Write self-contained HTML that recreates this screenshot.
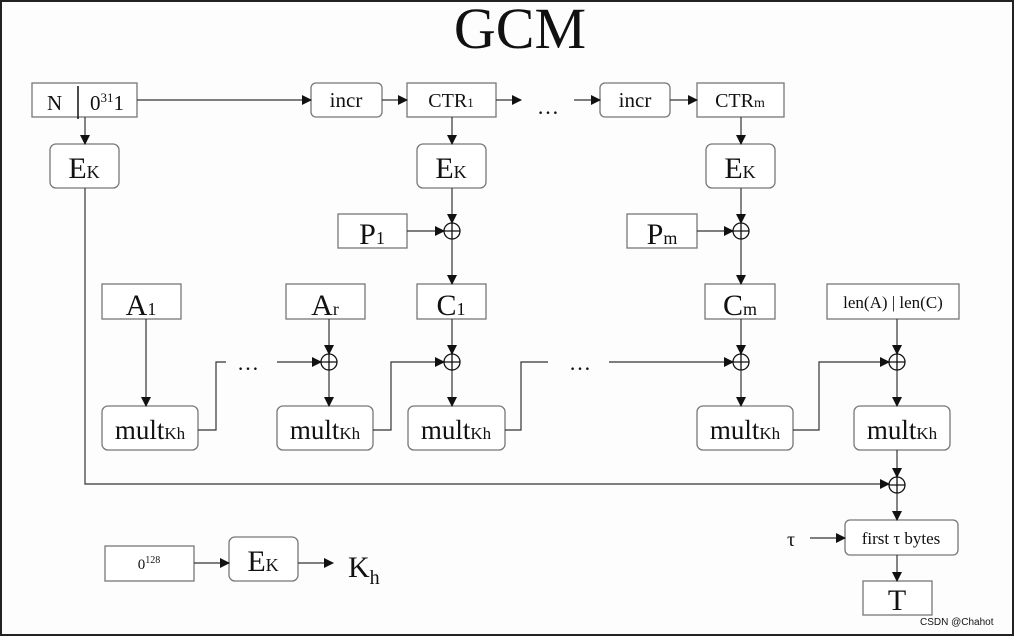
<!DOCTYPE html>
<html><head><meta charset="utf-8"><style>
html,body{margin:0;padding:0;background:#fff}
svg{display:block}
text{font-family:"Liberation Serif",serif;fill:#111}
</style></head><body>
<svg width="1015" height="637" viewBox="0 0 1015 637" xmlns="http://www.w3.org/2000/svg">
<defs>
<marker id="a" markerWidth="10" markerHeight="10" refX="9" refY="5" orient="auto" markerUnits="userSpaceOnUse"><path d="M0,0 L10,5 L0,10 z" fill="#111"/></marker>
</defs>
<rect x="1" y="1" width="1012" height="634" fill="#fdfdfd" stroke="#222" stroke-width="2"/>
<text x="520" y="48" font-size="58" text-anchor="middle">GCM</text>
<g fill="#fff" stroke="#777" stroke-width="1.3">
<rect x="32" y="83" width="105" height="34"/>
<rect x="311" y="83" width="71" height="34" rx="5"/>
<rect x="407" y="83" width="89" height="34"/>
<rect x="600" y="83" width="70" height="34" rx="5"/>
<rect x="697" y="83" width="87" height="34"/>
<rect x="50" y="144" width="69" height="44" rx="6"/>
<rect x="417" y="144" width="69" height="44" rx="6"/>
<rect x="706" y="144" width="69" height="44" rx="6"/>
<rect x="338" y="214" width="69" height="34"/>
<rect x="627" y="214" width="70" height="34"/>
<rect x="102" y="284" width="79" height="35"/>
<rect x="286" y="284" width="79" height="35"/>
<rect x="417" y="284" width="69" height="35"/>
<rect x="705" y="284" width="70" height="35"/>
<rect x="827" y="284" width="132" height="35"/>
<rect x="102" y="406" width="96" height="44" rx="6"/>
<rect x="277" y="406" width="96" height="44" rx="6"/>
<rect x="408" y="406" width="97" height="44" rx="6"/>
<rect x="697" y="406" width="96" height="44" rx="6"/>
<rect x="854" y="406" width="96" height="44" rx="6"/>
<rect x="845" y="520" width="113" height="35" rx="5"/>
<rect x="863" y="581" width="69" height="34"/>
<rect x="105" y="546" width="89" height="35"/>
<rect x="229" y="537" width="69" height="44" rx="6"/>
</g>
<line x1="78" y1="86" x2="78" y2="119" stroke="#111" stroke-width="1.5"/>
<g stroke="#333" stroke-width="1.2" fill="none" marker-end="url(#a)">
<line x1="137" y1="100" x2="311" y2="100"/>
<line x1="382" y1="100" x2="407" y2="100"/>
<line x1="496" y1="100" x2="521" y2="100"/>
<line x1="574" y1="100" x2="600" y2="100"/>
<line x1="670" y1="100" x2="697" y2="100"/>
<line x1="85" y1="117" x2="85" y2="144"/>
<line x1="452" y1="117" x2="452" y2="144"/>
<line x1="741" y1="117" x2="741" y2="144"/>
<line x1="452" y1="188" x2="452" y2="223"/>
<line x1="741" y1="188" x2="741" y2="223"/>
<line x1="407" y1="231" x2="444" y2="231"/>
<line x1="697" y1="231" x2="733" y2="231"/>
<line x1="452" y1="239" x2="452" y2="284"/>
<line x1="741" y1="239" x2="741" y2="284"/>
<line x1="146" y1="319" x2="146" y2="406"/>
<line x1="329" y1="319" x2="329" y2="354"/>
<line x1="452" y1="319" x2="452" y2="354"/>
<line x1="741" y1="319" x2="741" y2="354"/>
<line x1="897" y1="319" x2="897" y2="354"/>
<line x1="329" y1="370" x2="329" y2="406"/>
<line x1="452" y1="370" x2="452" y2="406"/>
<line x1="741" y1="370" x2="741" y2="406"/>
<line x1="897" y1="370" x2="897" y2="406"/>
<line x1="277" y1="362" x2="321" y2="362"/>
<polyline points="373,430 391,430 391,362 444,362"/>
<polyline points="609,362 733,362"/>
<polyline points="793,430 819,430 819,362 889,362"/>
<line x1="897" y1="450" x2="897" y2="477"/>
<polyline points="85,188 85,484 889,484"/>
<line x1="897" y1="493" x2="897" y2="520"/>
<line x1="810" y1="538" x2="845" y2="538"/>
<line x1="897" y1="555" x2="897" y2="581"/>
<line x1="194" y1="563" x2="229" y2="563"/>
<line x1="298" y1="563" x2="333" y2="563"/>
</g>
<g stroke="#333" stroke-width="1.2" fill="none">
<polyline points="198,430 216,430 216,362 226,362"/>
<polyline points="505,430 521,430 521,362 548,362"/>
</g>
<g stroke="#111" stroke-width="1.3" fill="none">
<circle cx="452" cy="231" r="8"/><path d="M444,231h16M452,223v16"/>
<circle cx="741" cy="231" r="8"/><path d="M733,231h16M741,223v16"/>
<circle cx="329" cy="362" r="8"/><path d="M321,362h16M329,354v16"/>
<circle cx="452" cy="362" r="8"/><path d="M444,362h16M452,354v16"/>
<circle cx="741" cy="362" r="8"/><path d="M733,362h16M741,354v16"/>
<circle cx="897" cy="362" r="8"/><path d="M889,362h16M897,354v16"/>
<circle cx="897" cy="485" r="8"/><path d="M889,485h16M897,477v16"/>
</g>
<text x="47" y="110" font-size="21">N</text>
<text x="90" y="110" font-size="21">0<tspan font-size="13" dy="-8">31</tspan><tspan dy="8">1</tspan></text>
<text x="346" y="107" font-size="21" text-anchor="middle">incr</text>
<text x="451" y="107" font-size="20" text-anchor="middle">CTR<tspan font-size="13">1</tspan></text>
<text x="548" y="114" font-size="22" text-anchor="middle">…</text>
<text x="635" y="107" font-size="21" text-anchor="middle">incr</text>
<text x="740" y="107" font-size="20" text-anchor="middle">CTR<tspan font-size="14">m</tspan></text>
<g font-size="30">
<text x="84" y="178" text-anchor="middle">E<tspan font-size="18">K</tspan></text>
<text x="451" y="178" text-anchor="middle">E<tspan font-size="18">K</tspan></text>
<text x="740" y="178" text-anchor="middle">E<tspan font-size="18">K</tspan></text>
<text x="263" y="571" text-anchor="middle">E<tspan font-size="18">K</tspan></text>
<text x="372" y="244" text-anchor="middle">P<tspan font-size="18">1</tspan></text>
<text x="662" y="244" text-anchor="middle">P<tspan font-size="18">m</tspan></text>
<text x="141" y="315" text-anchor="middle">A<tspan font-size="18">1</tspan></text>
<text x="325" y="315" text-anchor="middle">A<tspan font-size="18">r</tspan></text>
<text x="451" y="315" text-anchor="middle">C<tspan font-size="18">1</tspan></text>
<text x="740" y="315" text-anchor="middle">C<tspan font-size="18">m</tspan></text>
<text x="897" y="610" text-anchor="middle">T</text>
<text x="348" y="577">K<tspan font-size="20" dy="7">h</tspan></text>
</g>
<g font-size="27">
<text x="150" y="439" text-anchor="middle">mult<tspan font-size="17">Kh</tspan></text>
<text x="325" y="439" text-anchor="middle">mult<tspan font-size="17">Kh</tspan></text>
<text x="456" y="439" text-anchor="middle">mult<tspan font-size="17">Kh</tspan></text>
<text x="745" y="439" text-anchor="middle">mult<tspan font-size="17">Kh</tspan></text>
<text x="902" y="439" text-anchor="middle">mult<tspan font-size="17">Kh</tspan></text>
</g>
<text x="893" y="308" font-size="17" text-anchor="middle">len(A) | len(C)</text>
<text x="901" y="544" font-size="17" text-anchor="middle">first τ bytes</text>
<text x="787" y="546" font-size="20">τ</text>
<text x="248" y="370" font-size="22" text-anchor="middle">…</text>
<text x="580" y="370" font-size="22" text-anchor="middle">…</text>
<text x="149" y="569" font-size="15" text-anchor="middle" fill="#333">0<tspan font-size="10" dy="-6">128</tspan></text>
<text x="920" y="625" font-size="10" fill="#999" style="font-family:'Liberation Sans',sans-serif">CSDN @Chahot</text>
</svg>
</body></html>
